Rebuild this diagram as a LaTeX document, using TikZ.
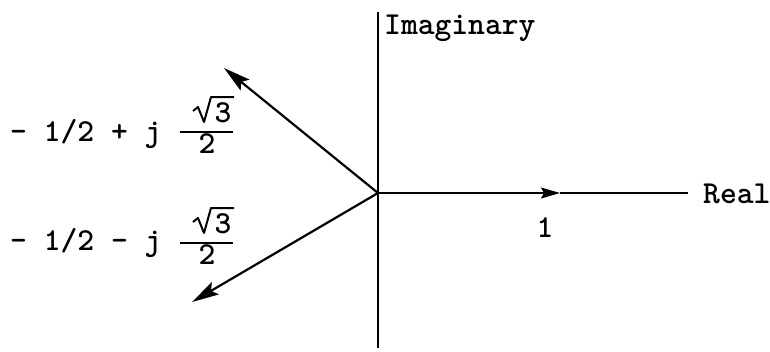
\documentclass[tikz,border=0pt]{standalone}
\usetikzlibrary{arrows.meta}
\begin{document}
\begin{tikzpicture}[x=1pt,y=-1pt,
  vec/.style={line width=2.2pt,-{Stealth[length=27pt,width=14pt,inset=5pt]}},
  axis/.style={line width=1.6pt},
  fracline/.style={line width=2pt},
  lbl/.style={font=\fontsize{32}{38}\selectfont\ttfamily\bfseries,inner sep=0pt}]
\useasboundingbox (0,0) rectangle (770,351);
\coordinate (O) at (378,193);
\coordinate (top) at (378,12);
\coordinate (bot) at (378,348);
\coordinate (rend) at (688,193);
\coordinate (rmid) at (560,193);
\coordinate (up) at (224,68);
\coordinate (dn) at (192,302);
\draw[axis] (top) -- (bot);
\draw[axis,-{Stealth[length=19pt,width=11pt,inset=3pt]}] (O) -- (rmid);
\draw[axis] (rmid) -- (rend);
\draw[vec] (O) -- (up);
\draw[vec] (O) -- (dn);
\node[lbl,anchor=base west] (im) at (384,34) {Imaginary};
\node[lbl,anchor=base west] (re) at (703,203) {Real};
\node[lbl,anchor=base] (one) at (545,237) {1};
% upper label
\node[lbl,anchor=base west] (zu) at (10,141) {- 1/2 + j};
\node[lbl,anchor=base] (zun) at (223,122) {3};
\node[lbl,anchor=base] (zud) at (207,153) {2};
\draw[fracline] (180,132) -- (233,132);
\draw[fracline,line join=round] (193,111) -- (198,107) -- (204,122) -- (211,97) -- (234,97);
% lower label
\node[lbl,anchor=base west] (zd) at (10,250) {- 1/2 - j};
\node[lbl,anchor=base] (zdn) at (223,233) {3};
\node[lbl,anchor=base] (zdd) at (207,264) {2};
\draw[fracline] (180,243) -- (233,243);
\draw[fracline,line join=round] (193,222) -- (198,218) -- (204,233) -- (211,208) -- (234,208);
\end{tikzpicture}
\end{document}
